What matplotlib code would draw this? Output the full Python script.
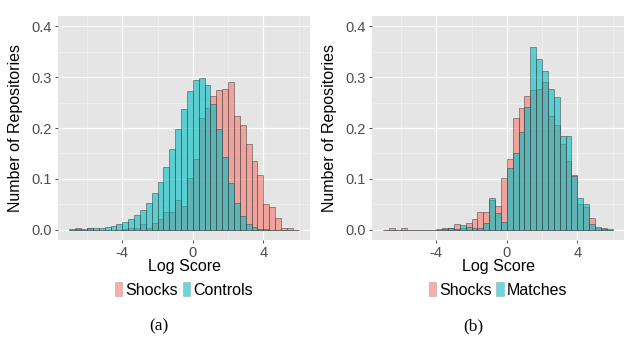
import numpy as np
import matplotlib
matplotlib.use("Agg")
import matplotlib.pyplot as plt
from matplotlib.patches import Patch

plt.rcParams['font.family'] = ['Liberation Sans', 'DejaVu Sans']
plt.rcParams['axes.unicode_minus'] = False

# histogram bins: start and width (log score)
bin_start = -7.0
bin_width = 1.0 / 3.0

# bar heights, 39 bins from -7 to 6
shocks = [0.0, 0.004, 0.0, 0.004, 0.0, 0.0, 0.0, 0.0, 0.0, 0.001,
          0.004, 0.003, 0.011, 0.003, 0.014, 0.022, 0.035, 0.035, 0.059, 0.047,
          0.102, 0.139, 0.220, 0.240, 0.263, 0.274, 0.277, 0.291, 0.223, 0.206,
          0.169, 0.135, 0.108, 0.051, 0.045, 0.023, 0.003, 0.003, 0.0]
controls = [0.001, 0.001, 0.001, 0.003, 0.004, 0.004, 0.006, 0.008, 0.012, 0.016,
            0.022, 0.030, 0.038, 0.053, 0.072, 0.094, 0.124, 0.159, 0.198, 0.238,
            0.272, 0.295, 0.299, 0.285, 0.247, 0.198, 0.143, 0.092, 0.053, 0.028,
            0.011, 0.005, 0.002, 0.001, 0.0, 0.0, 0.0, 0.0, 0.0]
matches = [0.0, 0.0, 0.0, 0.0, 0.0, 0.0, 0.0, 0.0, 0.0, 0.0,
           0.002, 0.003, 0.002, 0.010, 0.005, 0.004, 0.004, 0.014, 0.062, 0.033,
           0.016, 0.121, 0.151, 0.192, 0.241, 0.359, 0.336, 0.312, 0.277, 0.261,
           0.185, 0.184, 0.105, 0.062, 0.051, 0.012, 0.005, 0.001, 0.001]

panels = [
    ("Controls", controls, "(a)"),
    ("Matches", matches, "(b)"),
]

red = '#F8766D'
teal = '#00BFC4'
alpha = 0.6
edge = (0.25, 0.25, 0.25, 0.42)

W, H = 624, 339
fig = plt.figure(figsize=(W / 100, H / 100), dpi=100)

ax_px = [(58, 310), (372, 624)]
top_px, bot_px = 16, 240

for (name, other, cap), (x0, x1) in zip(panels, ax_px):
    ax = fig.add_axes([x0 / W, 1 - bot_px / H, (x1 - x0) / W, (bot_px - top_px) / H])
    ax.set_facecolor('#E5E5E5')
    for s in ax.spines.values():
        s.set_visible(False)

    lefts = bin_start + np.arange(len(shocks)) * bin_width
    ax.bar(lefts, shocks, width=bin_width, align='edge', color=red, alpha=alpha,
           edgecolor=edge, linewidth=0.6, zorder=3)
    ax.bar(lefts, other, width=bin_width, align='edge', color=teal, alpha=alpha,
           edgecolor=edge, linewidth=0.6, zorder=4)

    lo, hi = bin_start, bin_start + len(shocks) * bin_width
    pad = (hi - lo) * 0.05
    ax.set_xlim(lo - pad, hi + pad)
    ax.set_ylim(-0.02, 0.42)

    ax.set_xticks([-4, 0, 4])
    ax.set_xticklabels(['-4', '0', '4'])
    ax.set_xticks([-6, -2, 2, 6], minor=True)
    ax.set_yticks([0.0, 0.1, 0.2, 0.3, 0.4])
    ax.set_yticklabels(['0.0', '0.1', '0.2', '0.3', '0.4'])
    ax.set_yticks([0.05, 0.15, 0.25, 0.35], minor=True)

    ax.grid(which='major', color='white', linewidth=0.9, zorder=0)
    ax.grid(which='minor', color='#F2F2F2', linewidth=0.45, zorder=0)
    ax.set_axisbelow(True)
    ax.tick_params(which='major', length=2.5, width=0.6, color='#333333',
                   labelsize=10.5, labelcolor='#4D4D4D', pad=2)
    ax.tick_params(which='minor', length=0)

    ax.set_xlabel('Log Score', fontsize=11.5)
    ax.xaxis.set_label_coords(0.5, -0.085)
    ax.set_ylabel('Number of Repositories', fontsize=11.5)
    ax.yaxis.set_label_coords(-0.139, 0.5)

    handles = [Patch(facecolor=red, alpha=alpha, edgecolor=(0.6, 0.6, 0.6), linewidth=0.5),
               Patch(facecolor=teal, alpha=alpha, edgecolor=(0.6, 0.6, 0.6), linewidth=0.5)]
    ax.legend(handles, ['Shocks', name], loc='center', bbox_to_anchor=(0.5, -0.223),
              ncol=2, frameon=False, fontsize=11.5, handlelength=0.45,
              handleheight=0.95, handletextpad=0.2, columnspacing=0.3,
              borderpad=0, borderaxespad=0)

    fig.text(((x0 + x1) / 2 - 25) / W, 1 - 326 / H, cap, ha='center', va='center',
             fontsize=12.5, family=['Liberation Serif', 'DejaVu Serif'])

fig.savefig('out.png', dpi=100)
